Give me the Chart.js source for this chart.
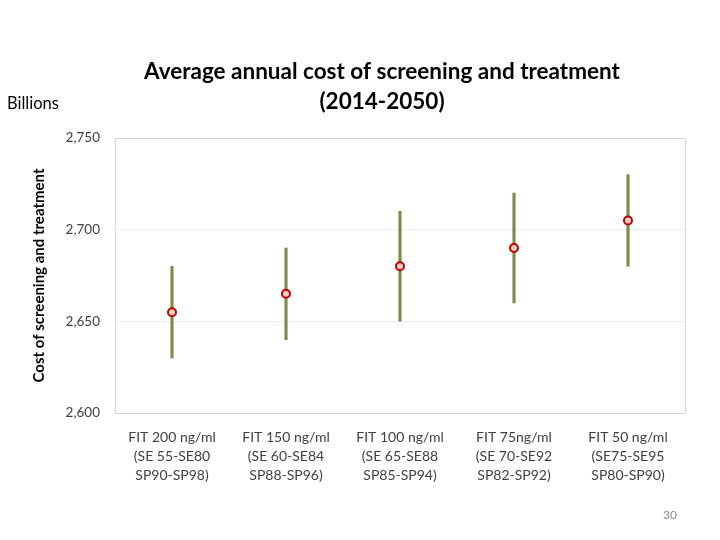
<!DOCTYPE html>
<html>
<head>
<meta charset="utf-8">
<script src="https://cdn.jsdelivr.net/npm/chart.js@4.4.0/dist/chart.umd.min.js"></script>
<style>
  html, body { margin: 0; padding: 0; background: #ffffff; }
  #wrap { position: relative; width: 720px; height: 540px; }
</style>
</head>
<body>
<div id="wrap"><canvas id="c" width="720" height="540"></canvas></div>
<script>
const categories = [
  ["FIT 200 ng/ml", "(SE 55-SE80", "SP90-SP98)"],
  ["FIT 150 ng/ml", "(SE 60-SE84", "SP88-SP96)"],
  ["FIT 100 ng/ml", "(SE 65-SE88", "SP85-SP94)"],
  ["FIT 75ng/ml", "(SE 70-SE92", "SP82-SP92)"],
  ["FIT 50 ng/ml", "(SE75-SE95", "SP80-SP90)"]
];
const averageCost = [2655, 2665, 2680, 2690, 2705];
const lowCost = [2630, 2640, 2650, 2660, 2680];
const highCost = [2680, 2690, 2710, 2720, 2730];
const yTicks = [2600, 2650, 2700, 2750];
const titleLines = ["Average annual cost of screening and treatment", "(2014-2050)"];
const yTitle = "Cost of screening and treatment";
const unitLabel = "Billions";
const pageNumber = "30";

const FONT = "Lato, 'Open Sans', sans-serif";

const rangeData = lowCost.map((lo, i) => [lo, highCost[i]]);

const decorPlugin = {
  id: 'decor',
  beforeDatasetsDraw(chart) {
    const { ctx, chartArea } = chart;
    ctx.save();
    ctx.strokeStyle = '#d9d9d9';
    ctx.lineWidth = 1;
    ctx.strokeRect(chartArea.left + 0.5, chartArea.top + 0.5,
      chartArea.right - chartArea.left, chartArea.bottom - chartArea.top);
    ctx.restore();
  },
  afterDraw(chart) {
    const { ctx } = chart;
    ctx.save();
    ctx.fillStyle = '#000000';
    ctx.textAlign = 'center';
    ctx.textBaseline = 'middle';
    ctx.font = "bold 22.5px " + FONT;
    ctx.fillText(titleLines[0], 382, 72);
    ctx.fillText(titleLines[1], 382, 102);
    ctx.textAlign = 'left';
    ctx.font = "16.5px " + FONT;
    ctx.fillText(unitLabel, 7, 104);
    ctx.fillStyle = '#8c8c8c';
    ctx.font = "12px " + FONT;
    ctx.textAlign = 'right';
    ctx.fillText(pageNumber, 677, 515);
    ctx.restore();
  }
};

new Chart(document.getElementById('c'), {
  type: 'bar',
  data: {
    labels: categories,
    datasets: [
      {
        type: 'line',
        label: 'Average',
        data: averageCost,
        showLine: false,
        pointRadius: 4,
        pointHoverRadius: 4,
        pointBorderWidth: 2,
        pointBorderColor: '#c00000',
        pointBackgroundColor: '#f8d0c0',
        order: 0
      },
      {
        type: 'bar',
        label: 'Range',
        data: rangeData,
        backgroundColor: '#7f8c48',
        barThickness: 2.5,
        borderSkipped: false,
        order: 1
      }
    ]
  },
  options: {
    responsive: false,
    animation: false,
    devicePixelRatio: 1,
    layout: { padding: { top: 138, left: 30, right: 35, bottom: 27 } },
    plugins: {
      legend: { display: false },
      tooltip: { enabled: false },
      title: { display: false }
    },
    scales: {
      x: {
        grid: { display: false },
        border: { display: false },
        ticks: {
          color: '#404040',
          font: { family: FONT, size: 14, lineHeight: 1.35 },
          padding: 7,
          maxRotation: 0,
          autoSkip: false
        },
        afterFit(scale) { scale.height = 100; }
      },
      y: {
        min: 2600,
        max: 2750,
        afterBuildTicks(scale) { scale.ticks = yTicks.map(v => ({ value: v })); },
        grid: { color: '#ececec', drawTicks: false },
        border: { display: false },
        ticks: {
          color: '#404040',
          font: { family: FONT, size: 13.5 },
          padding: 15,
          callback: v => v.toLocaleString('en-US')
        },
        title: {
          display: true,
          text: yTitle,
          color: '#000000',
          font: { family: FONT, size: 15, weight: 'bold' },
          padding: { top: 0, bottom: 10 }
        },
        afterFit(scale) { scale.width = 85; }
      }
    }
  },
  plugins: [decorPlugin]
});
</script>
</body>
</html>
